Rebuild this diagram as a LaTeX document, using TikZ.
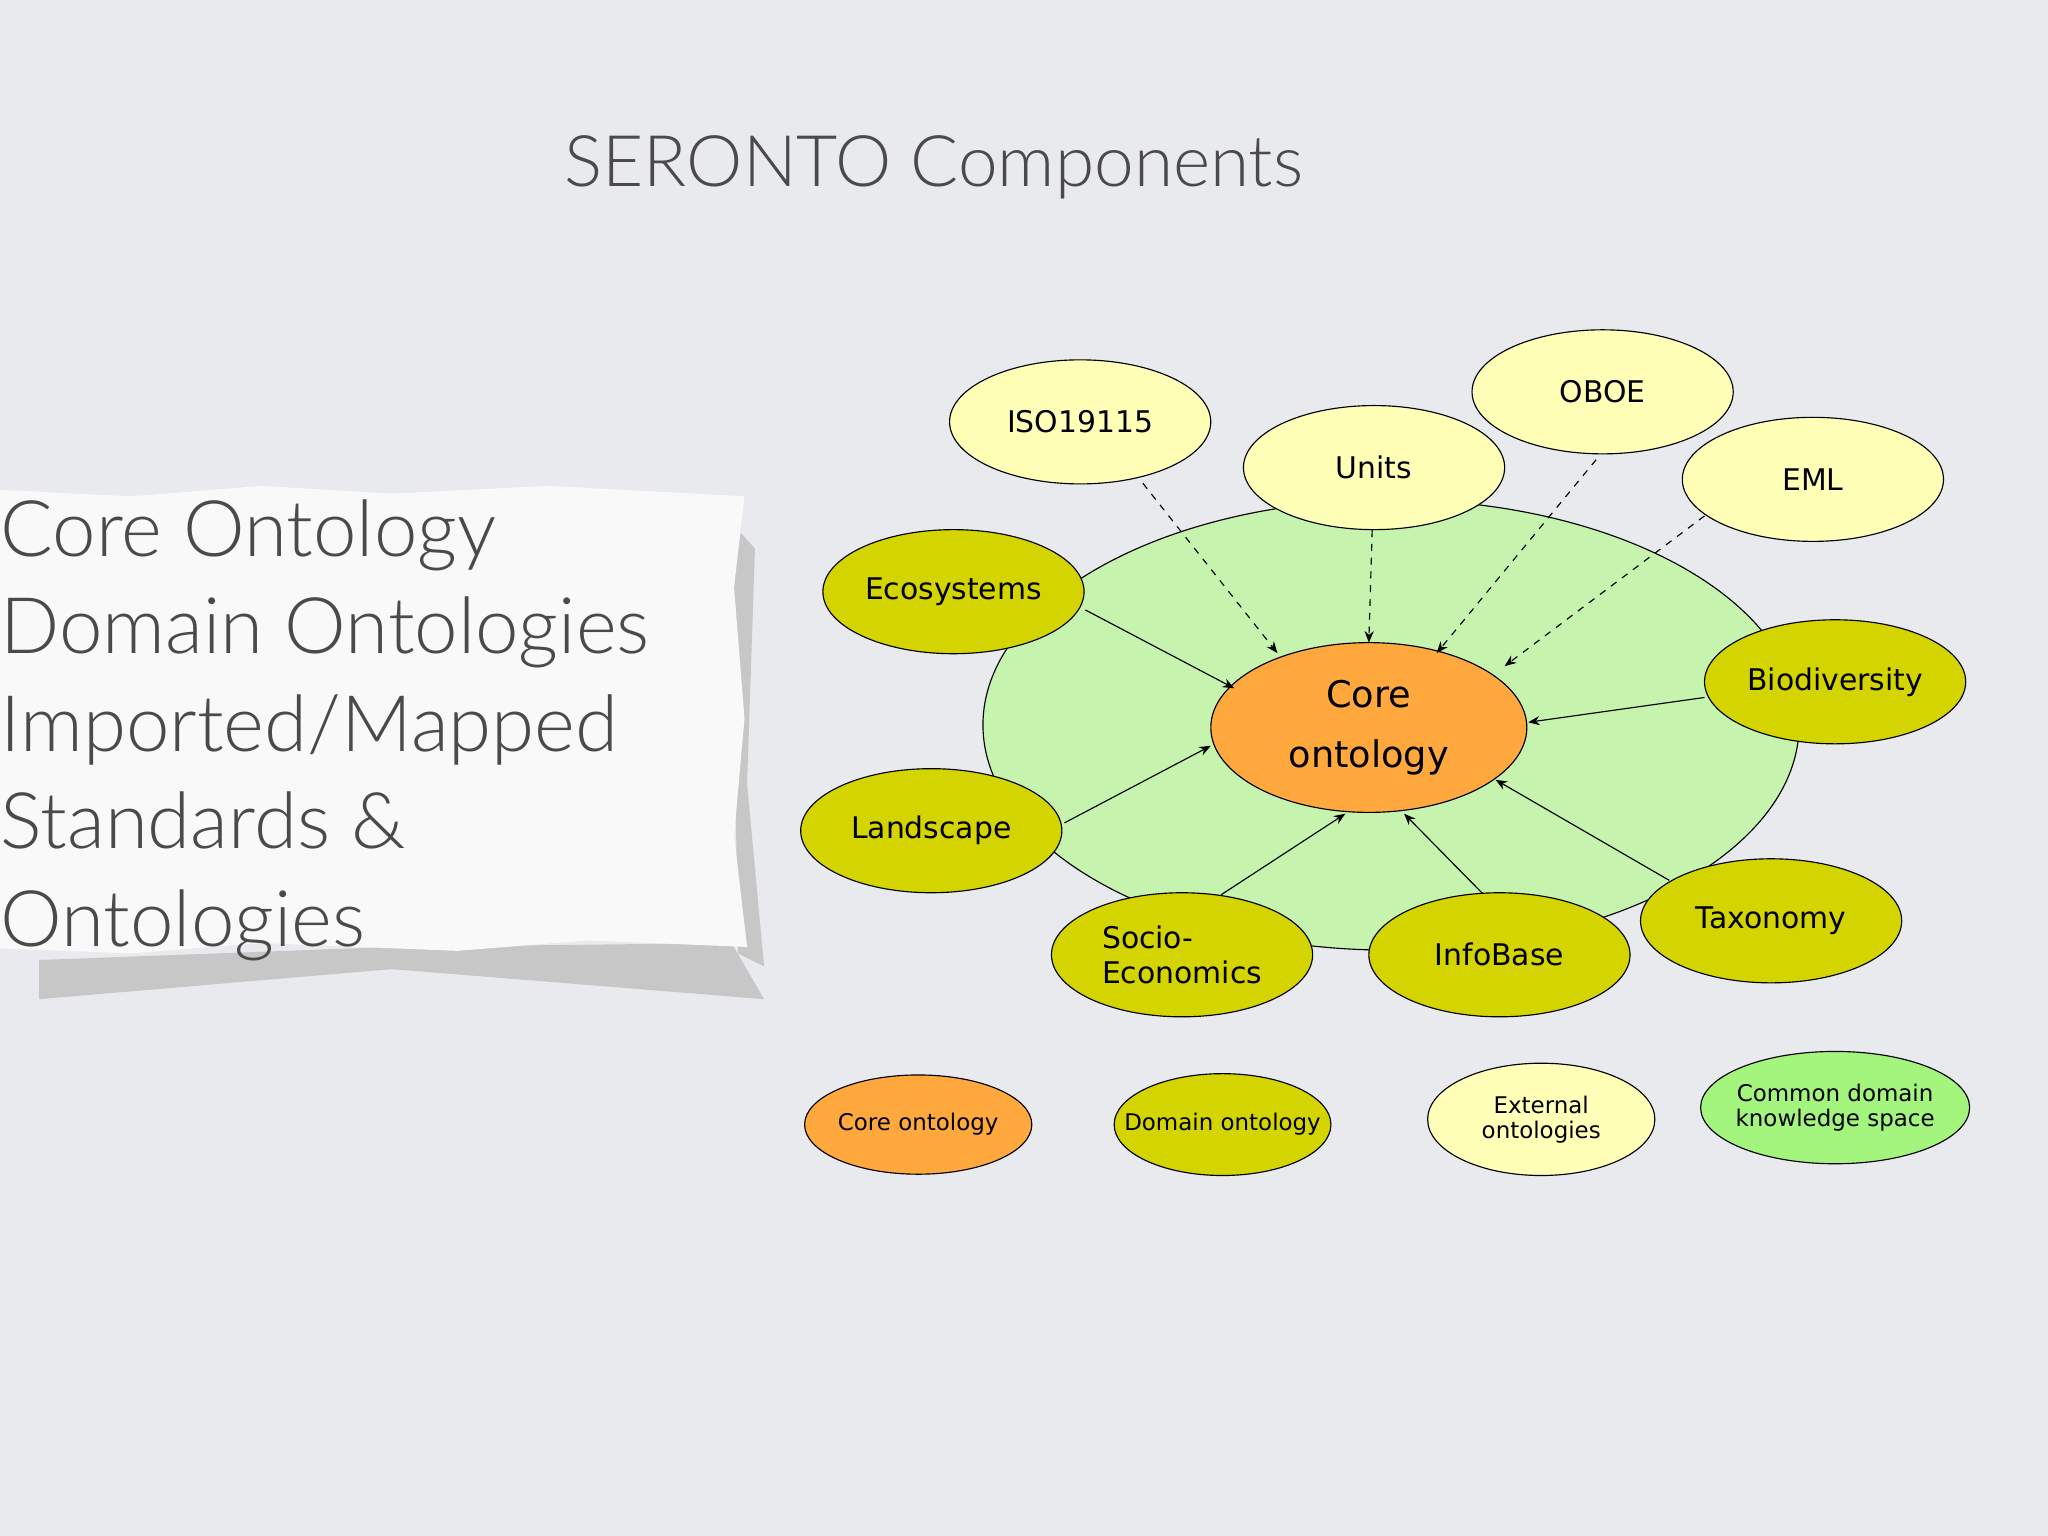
\documentclass[tikz,border=0pt]{standalone}
\usepackage{fontspec}
\setmainfont{DejaVu Sans}
\newfontfamily\titlefont{Lato Light}
\usetikzlibrary{shapes.geometric,arrows.meta,shadows}
\definecolor{bgc}{HTML}{E9EAEE}
\definecolor{ext}{HTML}{FFFFB8}
\definecolor{dom}{HTML}{D4D400}
\definecolor{core}{HTML}{FFA83E}
\definecolor{space}{HTML}{C6F3AE}
\definecolor{common}{HTML}{A4F57E}
\definecolor{tc}{HTML}{4A4A4A}
\tikzset{
 ell/.style={ellipse,draw=black,line width=0.5pt,inner sep=0pt,minimum width=4cm,minimum height=1.9cm,font=\fontsize{13}{15}\selectfont,align=left},
 extn/.style={ell,fill=ext},
 domn/.style={ell,fill=dom},
 leg/.style={ell,font=\fontsize{10}{12}\selectfont,align=center},
 sol/.style={-{Stealth[length=5pt,width=4pt]},line width=0.5pt},
 dsh/.style={sol,dashed},
}
\begin{document}
\begin{tikzpicture}[x=0.02cm,y=-0.02cm]
\fill[bgc] (0,0) rectangle (1568,1176);
\useasboundingbox (0,0) rectangle (1568,1176);
\node[text=tc,font=\titlefont\fontsize{31}{36}\selectfont] (title) at (715,128) {SERONTO Components};
% torn paper
\fill[gray!55,opacity=0.7] (30,735) -- (300,725) -- (560,722) -- (585,765) -- (300,742) -- (30,765) -- cycle;
\fill[gray!50,opacity=0.8] (560,400) -- (578,420) -- (572,600) -- (585,740) -- (565,730) -- cycle;
\fill[white!95!gray] (0,375) -- (100,380) -- (200,372) -- (300,378) -- (420,372) -- (570,380) -- (562,450) -- (570,550) -- (562,640) -- (572,725) -- (450,720) -- (350,728) -- (200,722) -- (100,730) -- (0,726) -- cycle;
\node[anchor=north west,text=tc,font=\titlefont\fontsize{34}{42.5}\selectfont,align=left,inner sep=0pt] (lst) at (0,382) {Core Ontology\\Domain Ontologies\\Imported/Mapped\\Standards \&\\Ontologies};
% space
\node[ellipse,draw=black,line width=0.5pt,fill=space,minimum width=12.5cm,minimum height=6.9cm] (sp) at (1065,555) {};
\node[ell,fill=core,minimum width=4.84cm,minimum height=2.6cm,align=center,font=\fontsize{16}{26}\selectfont] (core) at (1048,557) {Core\\ontology};
\node[extn] (iso) at (827,323) {ISO19115};
\node[extn] (oboe) at (1227,300) {OBOE};
\node[extn] (units) at (1052,358) {Units};
\node[extn] (eml) at (1388,367) {EML};
\node[domn] (eco) at (730,453) {Ecosystems};
\node[domn] (bio) at (1405,522) {Biodiversity};
\node[domn] (land) at (713,636) {Landscape};
\node[domn] (socio) at (905,731) {Socio-\\Economics};
\node[domn] (info) at (1148,731) {InfoBase};
\node[domn] (tax) at (1356,705) {Taxonomy};
\draw[dsh] (875,370) -- (978,500);
\draw[dsh] (units) -- (1048,492);
\draw[dsh] (1222,352) -- (1100,500);
\draw[dsh] (1305,395) -- (1152,510);
\draw[sol] (831,467) -- (945,527);
\draw[sol] (1305,534) -- (1170,553);
\draw[sol] (815,630) -- (927,571);
\draw[sol] (935,685) -- (1030,623);
\draw[sol] (1135,684) -- (1075,623);
\draw[sol] (1278,674) -- (1145,597);
% legend
\node[leg,fill=core,minimum width=3.48cm,minimum height=1.52cm] (l1) at (703,861) {\makebox[0pt]{Core ontology}};
\node[leg,fill=dom,minimum width=3.32cm,minimum height=1.56cm] (l2) at (936,861) {\makebox[0pt]{Domain ontology}};
\node[leg,fill=ext,minimum width=3.48cm,minimum height=1.72cm] (l3) at (1180,857) {\makebox[0pt]{\shortstack{External\\ontologies}}};
\node[leg,fill=common,minimum width=4.12cm,minimum height=1.72cm] (l4) at (1405,848) {\makebox[0pt]{\shortstack{Common domain\\knowledge space}}};
\end{tikzpicture}
\end{document}
